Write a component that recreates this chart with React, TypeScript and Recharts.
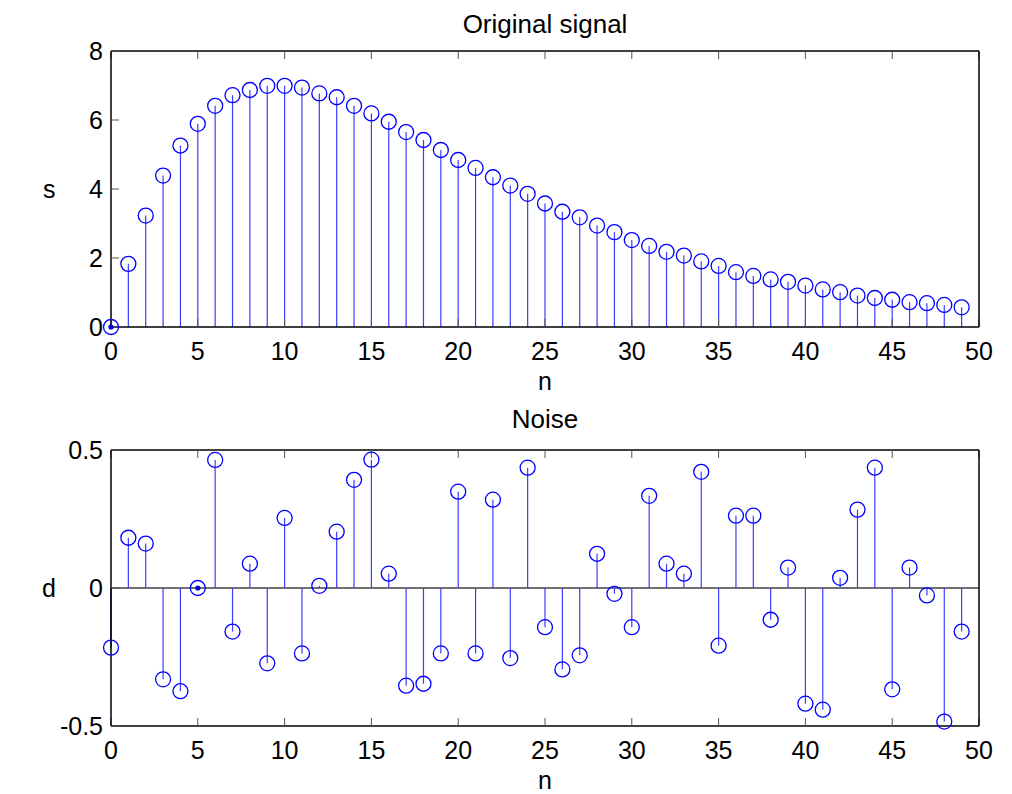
import React from "react";
import {
  ComposedChart,
  Scatter,
  XAxis,
  YAxis,
  ReferenceLine,
} from "recharts";

// sample index n = 0..49
const nValues: number[] = Array.from({ length: 50 }, (_, i) => i);

// original signal s[n]
const sValues: number[] = [
  0, 1.83, 3.23, 4.39, 5.26, 5.89, 6.41, 6.72, 6.87, 6.99,
  6.99, 6.94, 6.77, 6.66, 6.41, 6.19, 5.95, 5.65, 5.42, 5.13,
  4.84, 4.61, 4.34, 4.1, 3.86, 3.58, 3.34, 3.18, 2.94, 2.75,
  2.52, 2.35, 2.18, 2.07, 1.9, 1.77, 1.59, 1.48, 1.38, 1.31,
  1.2, 1.09, 1.01, 0.91, 0.84, 0.79, 0.72, 0.69, 0.64, 0.57,
];

// noise d[n]
const dValues: number[] = [
  -0.216, 0.182, 0.161, -0.331, -0.374, 0, 0.464, -0.158, 0.088, -0.273,
  0.254, -0.237, 0.008, 0.204, 0.392, 0.465, 0.052, -0.354, -0.347, -0.237,
  0.349, -0.237, 0.32, -0.254, 0.436, -0.142, -0.295, -0.244, 0.124, -0.021,
  -0.142, 0.334, 0.088, 0.052, 0.421, -0.209, 0.262, 0.262, -0.115, 0.074,
  -0.419, -0.441, 0.037, 0.284, 0.436, -0.367, 0.074, -0.027, -0.484, -0.158,
];

// highlighted (data-tip) samples
const sMarked: number[] = [0];
const dMarked: number[] = [5];

const xTicks: number[] = [0, 5, 10, 15, 20, 25, 30, 35, 40, 45, 50];
const sTicks: number[] = [0, 2, 4, 6, 8];
const dTicks: number[] = [-0.5, 0, 0.5];

const FONT = "'Liberation Sans', Arial, Helvetica, sans-serif";
const BLUE = "#0000ff";
const STEM = "#3c3cff";

const tickStyle = { fontSize: 25, fill: "#000", fontFamily: FONT };
const axisLineStyle = { stroke: "#000", strokeWidth: 1.5 };
const tickLineStyle = { stroke: "#555", strokeWidth: 1 };

function OpenCircle(props: any) {
  const { cx, cy } = props;
  if (cx == null || cy == null) return null;
  return <circle cx={cx} cy={cy} r={7.5} fill="none" stroke={BLUE} strokeWidth={1.3} />;
}

function Dot(props: any) {
  const { cx, cy } = props;
  if (cx == null || cy == null) return null;
  return <circle cx={cx} cy={cy} r={2.6} fill="#0000cc" stroke="none" />;
}

interface StemPanelProps {
  values: number[];
  marked: number[];
  domain: [number, number];
  yTicks: number[];
  title: string;
  yLabel: string;
  yLabelOffset: number;
  titleOffset: number;
  height: number;
  marginTop: number;
  marginBottom: number;
  showZeroLine: boolean;
}

function StemPanel({
  values,
  marked,
  domain,
  yTicks,
  title,
  yLabel,
  yLabelOffset,
  titleOffset,
  height,
  marginTop,
  marginBottom,
  showZeroLine,
}: StemPanelProps) {
  const data = nValues.map((n, i) => ({ n, v: values[i] }));
  const markedData = marked.map((n) => ({ n, v: values[n] }));

  return (
    <ComposedChart
      width={1012}
      height={height}
      data={data}
      margin={{ top: marginTop, right: 32, left: 0, bottom: marginBottom }}
      style={{ overflow: "visible" }}
    >
      <XAxis
        dataKey="n"
        type="number"
        domain={[0, 50]}
        ticks={xTicks}
        interval={0}
        height={66}
        tick={tickStyle}
        tickSize={-8}
        tickMargin={23}
        axisLine={axisLineStyle}
        tickLine={tickLineStyle}
        label={{
          value: "n",
          position: "insideBottom",
          offset: 3,
          style: { fontSize: 25, fill: "#000", fontFamily: FONT },
        }}
      />
      <XAxis
        xAxisId="top"
        orientation="top"
        dataKey="n"
        type="number"
        domain={[0, 50]}
        ticks={xTicks}
        interval={0}
        height={1}
        tickFormatter={() => ""}
        tickSize={-8}
        axisLine={axisLineStyle}
        tickLine={tickLineStyle}
        label={{
          value: title,
          position: "top",
          offset: titleOffset,
          style: { fontSize: 26, fill: "#000", fontFamily: FONT },
        }}
      />
      <YAxis
        type="number"
        domain={domain}
        ticks={yTicks}
        interval={0}
        width={111}
        tick={tickStyle}
        tickSize={-8}
        tickMargin={16}
        axisLine={axisLineStyle}
        tickLine={tickLineStyle}
        label={{
          value: yLabel,
          position: "insideLeft",
          offset: yLabelOffset,
          style: { fontSize: 25, fill: "#000", fontFamily: FONT },
        }}
      />
      <YAxis
        yAxisId="right"
        orientation="right"
        type="number"
        domain={domain}
        ticks={yTicks}
        interval={0}
        width={1}
        tickFormatter={() => ""}
        tickSize={-8}
        axisLine={axisLineStyle}
        tickLine={tickLineStyle}
      />
      {showZeroLine && <ReferenceLine y={0} stroke="#404040" strokeWidth={1.3} />}
      {data.map((p) => (
        <ReferenceLine
          key={`stem-${p.n}`}
          segment={[
            { x: p.n, y: 0 },
            { x: p.n, y: p.v },
          ]}
          stroke={p.n === 0 ? "#00008b" : STEM}
          strokeWidth={1.2}
          ifOverflow="visible"
        />
      ))}
      <Scatter dataKey="v" data={data} shape={OpenCircle} isAnimationActive={false} />
      <Scatter dataKey="v" data={markedData} shape={Dot} isAnimationActive={false} />
    </ComposedChart>
  );
}

export default function App() {
  return (
    <div
      style={{
        position: "absolute",
        left: 0,
        top: 0,
        width: 1012,
        height: 794,
        background: "#fff",
        overflow: "hidden",
      }}
    >
      <div style={{ position: "absolute", left: 0, top: 0 }}>
        <StemPanel
          values={sValues}
          marked={sMarked}
          domain={[0, 8]}
          yTicks={sTicks}
          title="Original signal"
          yLabel="s"
          yLabelOffset={43}
          titleOffset={17}
          height={400}
          marginTop={50}
          marginBottom={7}
          showZeroLine={false}
        />
      </div>
      <div style={{ position: "absolute", left: 0, top: 400 }}>
        <StemPanel
          values={dValues}
          marked={dMarked}
          domain={[-0.5, 0.5]}
          yTicks={dTicks}
          title="Noise"
          yLabel="d"
          yLabelOffset={42}
          titleOffset={21}
          height={394}
          marginTop={49}
          marginBottom={2}
          showZeroLine={true}
        />
      </div>
    </div>
  );
}
